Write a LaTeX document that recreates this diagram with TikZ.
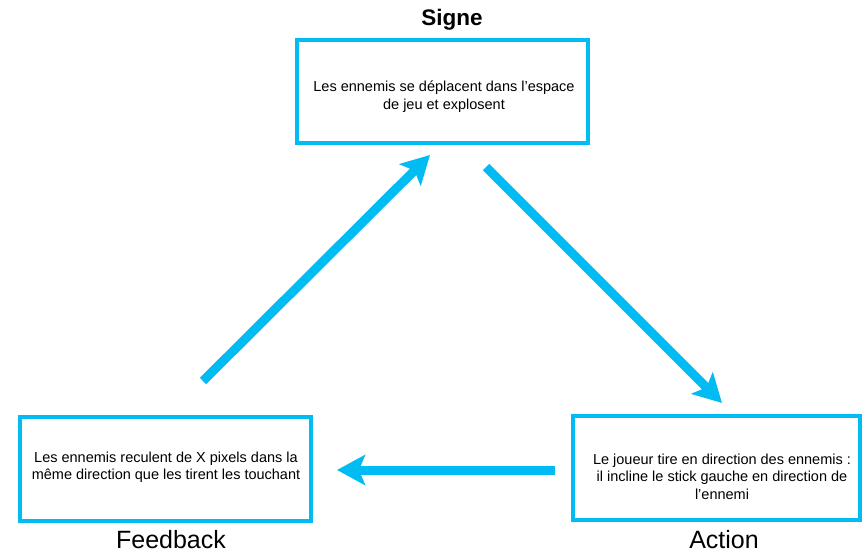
\documentclass[tikz,border=0pt]{standalone}
\usepackage{fontspec}
\setmainfont{Liberation Sans}
\usetikzlibrary{arrows.meta}
\definecolor{cyclecyan}{RGB}{0,188,242}
\begin{document}
\begin{tikzpicture}[x=1pt,y=-1pt,
  stagebox/.style={draw=cyclecyan, line width=3.5pt, inner sep=0pt, fill=white},
  stagetext/.style={font=\fontsize{14.5}{17.5}\selectfont, align=center, inner sep=0pt},
  stagetitle/.style={font=\fontsize{25}{30}\selectfont, inner sep=0pt},
  flow/.style={draw=cyclecyan, line width=9pt,
    -{Stealth[length=28pt,width=30pt,inset=6pt]}}]
\useasboundingbox (0,0) rectangle (863,560);

% the three stages of the loop
\node[stagebox, minimum width=291pt, minimum height=103pt] (signe) at (442.5,91.5) {};
\node[stagebox, minimum width=291pt, minimum height=104pt] (feedback) at (165.5,469) {};
\node[stagebox, minimum width=287pt, minimum height=104pt] (action) at (716.5,468) {};

\node[stagetext] (signetxt) at (444,96.5)
  {Les ennemis se déplacent dans l’espace\\de jeu et explosent};
\node[stagetext] (feedbacktxt) at (166,467)
  {Les ennemis reculent de X pixels dans la\\même direction que les tirent les touchant};
\node[stagetext] (actiontxt) at (722,476.5)
  {Le joueur tire en direction des ennemis :\\il incline le stick gauche en direction de\\l'ennemi};

% stage names
\node[stagetitle, font=\fontsize{22.5}{27}\selectfont\bfseries] (signetitle) at (452,20) {Signe};
\node[stagetitle] (feedbacktitle) at (171,540) {Feedback};
\node[stagetitle] (actiontitle) at (724,540) {Action};

% loop arrows
\coordinate (f2s-start) at (203,381);
\coordinate (f2s-end) at (430,155);
\coordinate (s2a-start) at (486,167);
\coordinate (s2a-end) at (722,403);
\coordinate (a2f-start) at (555,470);
\coordinate (a2f-end) at (337,470);

\draw[flow] (f2s-start) -- (f2s-end);
\draw[flow] (s2a-start) -- (s2a-end);
\draw[flow] (a2f-start) -- (a2f-end);
\end{tikzpicture}
\end{document}
